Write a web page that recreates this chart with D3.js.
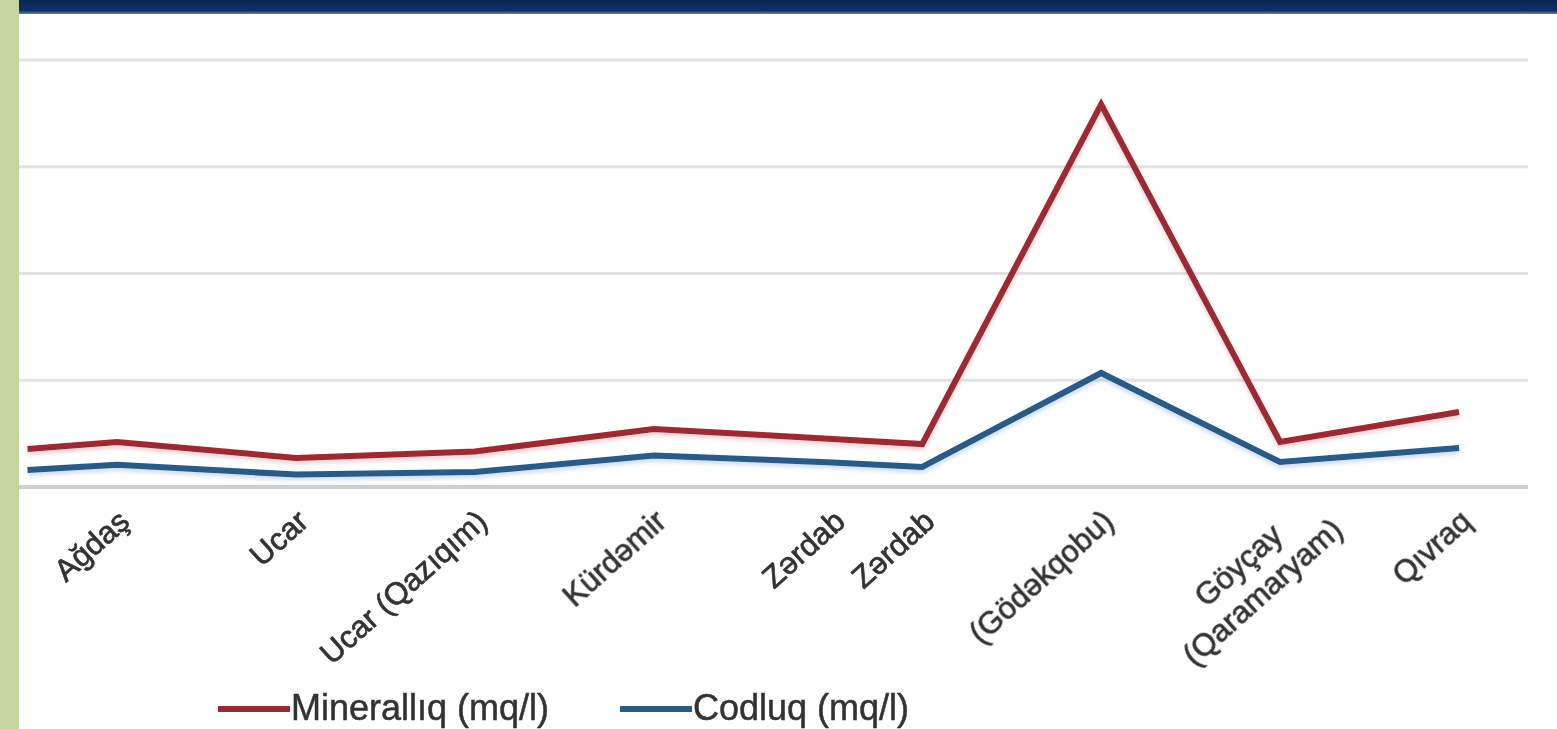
<!DOCTYPE html>
<html>
<head>
<meta charset="utf-8">
<script src="https://cdn.jsdelivr.net/npm/d3@7"></script>
<style>
  html, body { margin: 0; padding: 0; background: #ffffff; }
  svg { display: block; }
</style>
</head>
<body>
<svg id="chart" width="1557" height="729"></svg>
<script>
// ---- data ----
// category slots along the x axis ("" = unlabeled slot)
const slotLabels = ["", "Ağdaş", "", "Ucar", "", "Ucar (Qazıqım)", "", "Kürdəmir", "", "Zərdab", "Zərdab", "", "(Gödəkqobu)", "", "Göyçay\n(Qaramaryam)", "", "Qıvraq"];
const mineral  = [178, 211, null, 136, null, 166, null, 272, null, 225, 201, null, 1792, null, 211, null, 351];
const hardness = [ 80, 104, null,  58, null,  70, null, 148, null, 115,  94, null,  534, null, 117, null, 183];
const yTicks = [0, 500, 1000, 1500, 2000];
const seriesNames = ["Minerallıq (mq/l)", "Codluq (mq/l)"];
const seriesColors = ["#9c2a30", "#2c5a86"];

const W = 1557, H = 729;
const svg = d3.select("#chart");
const defs = svg.append("defs");

const grad = defs.append("linearGradient").attr("id", "bar").attr("x1", 0).attr("y1", 0).attr("x2", 0).attr("y2", 1);
grad.append("stop").attr("offset", "0%").attr("stop-color", "#0a2656");
grad.append("stop").attr("offset", "75%").attr("stop-color", "#0f2f64");
grad.append("stop").attr("offset", "100%").attr("stop-color", "#5f82b8");

const glowR = defs.append("filter").attr("id", "glowR").attr("x", "-5%").attr("y", "-20%").attr("width", "110%").attr("height", "140%");
glowR.append("feDropShadow").attr("dx", 0).attr("dy", 3).attr("stdDeviation", 2.2).attr("flood-color", "#e07080").attr("flood-opacity", 0.35);
const glowB = defs.append("filter").attr("id", "glowB").attr("x", "-5%").attr("y", "-20%").attr("width", "110%").attr("height", "140%");
glowB.append("feDropShadow").attr("dx", 0).attr("dy", 3).attr("stdDeviation", 2.2).attr("flood-color", "#7aa8e0").attr("flood-opacity", 0.4);
const soft = defs.append("filter").attr("id", "soft");
soft.append("feGaussianBlur").attr("stdDeviation", 0.6);

svg.append("rect").attr("width", W).attr("height", H).attr("fill", "#ffffff");

// scales
const x = d3.scalePoint().domain(d3.range(slotLabels.length)).range([27.5, 1459]);
const y = d3.scaleLinear().domain([0, 2000]).range([487, 60]);

// gridlines
svg.append("g").selectAll("line").data(yTicks.slice(1)).join("line")
  .attr("x1", 19).attr("x2", 1528)
  .attr("y1", d => y(d)).attr("y2", d => y(d))
  .attr("stroke", "#e2e2e4").attr("stroke-width", 3);

// x axis
const xAxis = svg.append("g").attr("transform", `translate(0,${y(0)})`)
  .call(d3.axisBottom(x).tickSize(0).tickFormat(""));
xAxis.select(".domain").attr("d", "M19,0H1528").attr("stroke", "#cfcfd2").attr("stroke-width", 4);

// lines
const series = [mineral, hardness];
const line = d3.line().x(d => x(d.i)).y(d => y(d.v));
series.forEach((vals, k) => {
  const pts = vals.map((v, i) => ({ i, v })).filter(d => d.v !== null);
  svg.append("path").datum(pts)
    .attr("d", line)
    .attr("fill", "none")
    .attr("stroke", seriesColors[k])
    .attr("stroke-width", 6)
    .attr("stroke-linejoin", "miter")
    .attr("filter", k === 0 ? "url(#glowR)" : "url(#glowB)");
});

// x labels (rotated)
const angle = -42;
const fs = 31, lh = 36;
const labG = svg.append("g").attr("font-family", "'Liberation Sans', Arial, sans-serif")
  .attr("font-size", fs).attr("fill", "#333333")
  .attr("stroke", "#333333").attr("stroke-width", 0.7)
  .attr("filter", "url(#soft)");
slotLabels.forEach((lab, i) => {
  if (!lab) return;
  const lines = lab.split("\n");
  const n = lines.length;
  const g = labG.append("g").attr("transform", `translate(${x(i) + 7 + (n - 1) * 38},${516 - (n - 1) * 5}) rotate(${angle})`);
  const texts = lines.map((t, j) => g.append("text")
    .attr("text-anchor", "middle")
    .attr("y", (j - (n - 1) / 2) * lh)
    .attr("dy", "0.35em").text(t));
  const maxW = d3.max(texts, t => t.node().getComputedTextLength());
  texts.forEach(t => t.attr("x", -maxW / 2));
});

// legend
const legend = svg.append("g").attr("font-family", "'Liberation Sans', Arial, sans-serif")
  .attr("font-size", 36).attr("fill", "#333").attr("stroke", "#333").attr("stroke-width", 0.5)
  .attr("filter", "url(#soft)");
const legX = [218, 620];
seriesNames.forEach((name, k) => {
  legend.append("line").attr("x1", legX[k]).attr("x2", legX[k] + 72)
    .attr("y1", 709).attr("y2", 709)
    .attr("stroke", seriesColors[k]).attr("stroke-width", 6);
  legend.append("text").attr("x", legX[k] + 73).attr("y", 720).text(name);
});

// top banner and left green strip
svg.append("rect").attr("x", 0).attr("y", 0).attr("width", W).attr("height", 14).attr("fill", "url(#bar)");
svg.append("rect").attr("x", 0).attr("y", 0).attr("width", 19).attr("height", H).attr("fill", "#c4d69b");
</script>
</body>
</html>
